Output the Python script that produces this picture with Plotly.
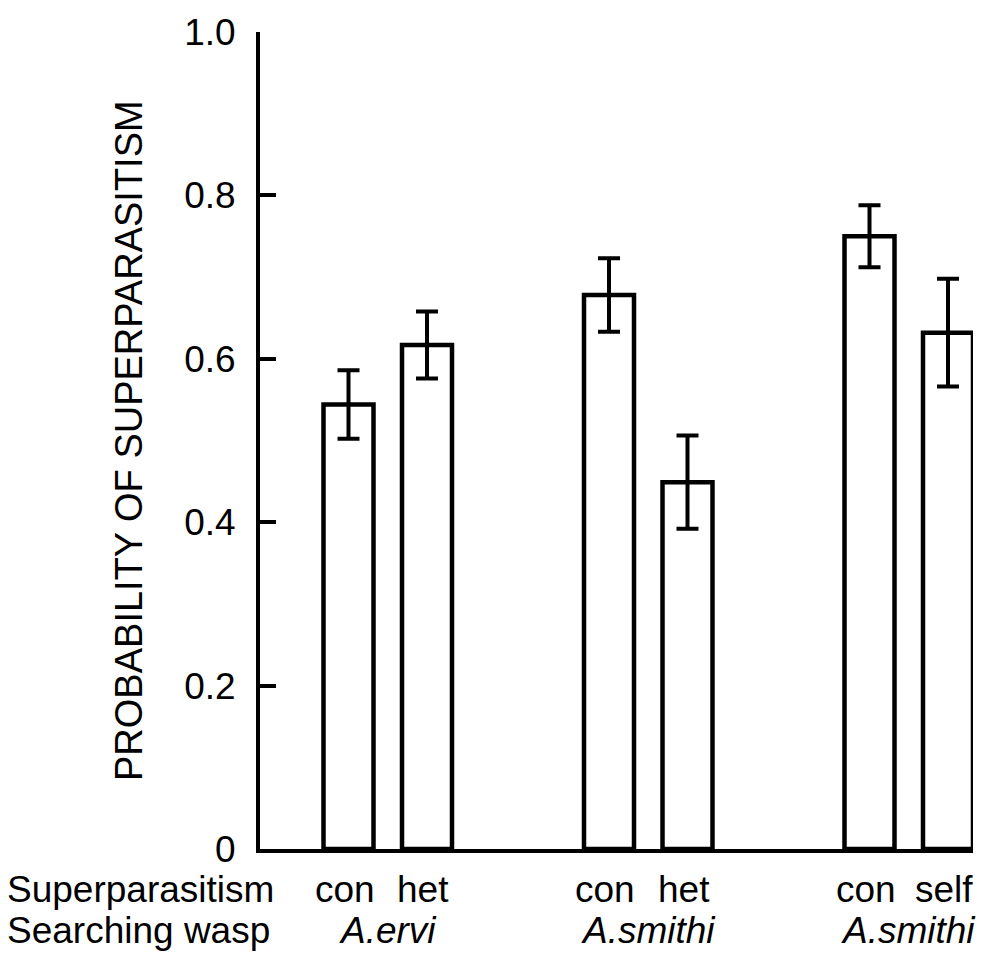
import numpy as np
import plotly.graph_objects as go

# Probability of superparasitism by searching wasp and type of prior parasitism
searching_wasp = ["A.ervi", "A.ervi", "A.smithi", "A.smithi", "A.smithi", "A.smithi"]
superparasitism = ["con", "het", "con", "het", "con", "self"]
probability = [0.544, 0.617, 0.678, 0.449, 0.750, 0.632]
error = [0.042, 0.041, 0.045, 0.057, 0.038, 0.066]
group_index = [0, 0, 1, 1, 2, 2]
member_index = [0, 1, 0, 1, 0, 1]

y_ticks = [0, 0.2, 0.4, 0.6, 0.8, 1.0]
y_tick_text = ["0", "0.2", "0.4", "0.6", "0.8", "1.0"]
y_title = "PROBABILITY OF SUPERPARASITISM"
row_titles = ["Superparasitism", "Searching wasp"]

# Layout of the bar positions (x axis in pixel-like units)
FIRST_CENTER = 88.5
GROUP_PITCH = 260.5
PAIR_GAP = 78.5
BAR_WIDTH = 50
X_MAX = 713

W, H = 994, 959
ML, MR, MT, MB = 260, W - 260 - X_MAX, 24, 110

x_pos = FIRST_CENTER + GROUP_PITCH * np.array(group_index) + PAIR_GAP * np.array(member_index)

FONT = "Liberation Sans, Arial, Helvetica, sans-serif"
FS = 37

fig = go.Figure(
    go.Bar(
        x=x_pos,
        y=probability,
        width=BAR_WIDTH,
        marker=dict(color="white", line=dict(color="black", width=4.5)),
        error_y=dict(type="data", array=error, visible=True,
                     color="black", thickness=4, width=11),
    )
)

plot_h = H - MT - MB


def py_to_paper(py):
    return (H - MB - py) / plot_h


def px_to_paper(px):
    return (px - ML) / X_MAX


annotations = []
# row titles below the axis
row_y = [890, 931]
for title, yy in zip(row_titles, row_y):
    annotations.append(dict(text=title, x=px_to_paper(5), y=py_to_paper(yy),
                            xref="paper", yref="paper", xanchor="left", yanchor="middle",
                            showarrow=False, font=dict(family=FONT, size=FS, color="black")))

# category labels under each bar
for xv, lab in zip(x_pos, superparasitism):
    annotations.append(dict(text=lab, x=xv - 4, y=py_to_paper(row_y[0]),
                            xref="x", yref="paper", xanchor="center", yanchor="middle",
                            showarrow=False, font=dict(family=FONT, size=FS, color="black")))

# searching wasp labels, one per pair
for g in sorted(set(group_index)):
    idx = [i for i, gi in enumerate(group_index) if gi == g]
    xc = float(np.mean(x_pos[idx]))
    annotations.append(dict(text="<i>" + searching_wasp[idx[0]] + "</i>", x=xc,
                            y=py_to_paper(row_y[1]),
                            xref="x", yref="paper", xanchor="center", yanchor="middle",
                            showarrow=False, font=dict(family=FONT, size=FS, color="black")))

# rotated y-axis title
annotations.append(dict(text=y_title, x=px_to_paper(129), y=py_to_paper(437),
                        xref="paper", yref="paper",
                        textangle=-90, xanchor="center", yanchor="middle", showarrow=False,
                        font=dict(family=FONT, size=38, color="black")))

fig.update_layout(
    width=W, height=H,
    margin=dict(l=ML, r=MR, t=MT, b=MB, pad=0),
    paper_bgcolor="white", plot_bgcolor="white",
    showlegend=False,
    annotations=annotations,
    font=dict(family=FONT, size=FS, color="black"),
)

fig.update_xaxes(range=[0, X_MAX], showgrid=False, zeroline=False,
                 showticklabels=False, ticks="",
                 showline=True, linecolor="black", linewidth=4)
fig.update_yaxes(range=[0, 1.0], tickvals=y_ticks, ticktext=y_tick_text,
                 ticks="inside", ticklen=16, tickwidth=3.5, tickcolor="black",
                 showline=True, linecolor="black", linewidth=4,
                 showgrid=False, zeroline=False,
                 ticklabelstandoff=13,
                 tickfont=dict(family=FONT, size=FS, color="black"))

fig.write_html("out.html")
